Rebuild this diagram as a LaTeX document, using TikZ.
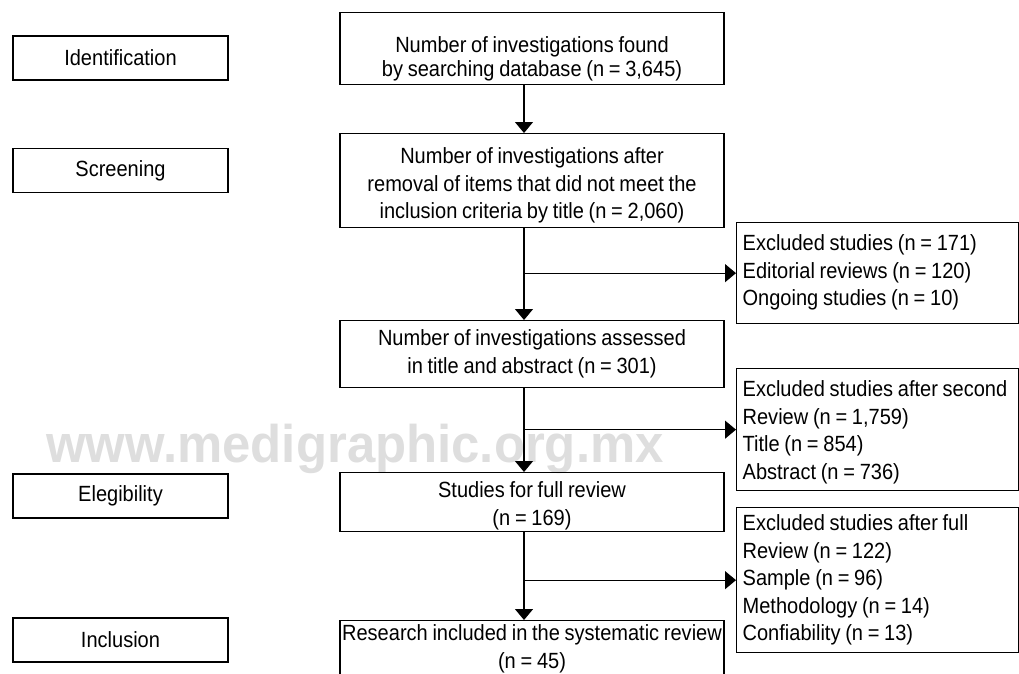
\documentclass[tikz,border=0pt]{standalone}
\usepackage{fontspec}
\setmainfont{Liberation Sans}[FakeStretch=0.91,WordSpace=0.85]
\newfontfamily\wmfont{Liberation Sans}[FakeStretch=0.96]
\usetikzlibrary{arrows.meta}
\definecolor{wmgray}{RGB}{222,222,222}
\begin{document}
\begin{tikzpicture}[x=1pt,y=-1pt,
    font=\fontsize{22}{27.5}\selectfont,
    box/.style={draw,line width=1.3pt,inner sep=0pt},
    stage/.style={box,minimum width=215pt,minimum height=44pt},
    mainbox/.style={box,anchor=north,minimum width=384pt,align=center},
    exbox/.style={box,anchor=north west,inner xsep=6pt,text width=270pt,align=flush left},
    arr/.style={-{Triangle[length=11pt,width=18pt]},line width=1.3pt}]
    \clip (0,0) rectangle (1019,673);
    % watermark behind the chart
    \node[font=\wmfont\bfseries\fontsize{53}{53}\selectfont,text=wmgray,anchor=base] (wm) at (355,462) {www.medigraphic.org.mx};
    \node[stage] (ident) at (120.5,58) {Identification};
    \node[stage] (screen) at (120.5,170.5) {Screening};
    \node[stage] (elig) at (120.5,496) {Elegibility};
    \node[stage] (inclu) at (120.5,640) {Inclusion};
    \node[mainbox,font=\fontsize{22}{24}\selectfont,text height=64pt,text depth=8pt] (found) at (532,12)
        {Number of investigations found\\by searching database (n = 3,645)};
    \node[mainbox,text height=85pt,text depth=9pt] (removal) at (532,133)
        {Number of investigations after\\removal of items that did not meet the\\inclusion criteria by title (n = 2,060)};
    \node[mainbox,text height=52.5pt,text depth=14.5pt] (assessed) at (532,320)
        {Number of investigations assessed\\in title and abstract (n = 301)};
    \node[mainbox,text height=52.5pt,text depth=6.5pt] (full) at (532,472)
        {Studies for full review\\(n = 169)};
    \node[mainbox,text height=47.5pt,text depth=40pt] (incl) at (532,620)
        {Research included in the systematic review\\(n = 45)};
    \node[exbox,text height=28pt,text depth=73pt] (exA) at (736,222)
        {Excluded studies (n = 171)\\Editorial reviews (n = 120)\\Ongoing studies (n = 10)};
    \node[exbox,text height=28pt,text depth=94pt] (exB) at (736,368)
        {Excluded studies after second\\Review (n = 1,759)\\Title (n = 854)\\Abstract (n = 736)};
    \node[exbox,text height=23pt,text depth=122pt] (exC) at (736,507)
        {Excluded studies after full\\Review (n = 122)\\Sample (n = 96)\\Methodology (n = 14)\\Confiability (n = 13)};
    \coordinate (spine) at (524,0);
    \draw[arr] (found.south -| spine) -- (removal.north -| spine);
    \draw[arr] (removal.south -| spine) -- (assessed.north -| spine);
    \draw[arr] (assessed.south -| spine) -- (full.north -| spine);
    \draw[arr] (full.south -| spine) -- (incl.north -| spine);
    \draw[arr] (spine |- exA.west) -- (exA.west);
    \draw[arr] (spine |- exB.west) -- (exB.west);
    \draw[arr] (spine |- exC.west) -- (exC.west);
\end{tikzpicture}
\end{document}
